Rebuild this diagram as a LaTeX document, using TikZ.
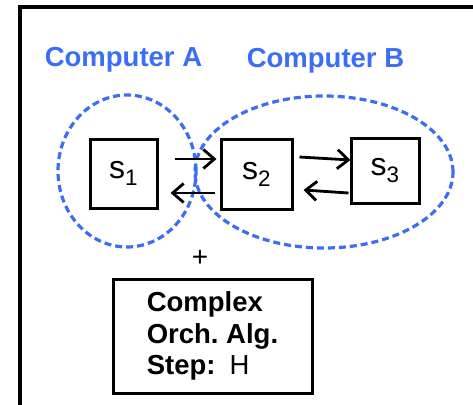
\documentclass[tikz,border=0pt]{standalone}
\usepackage{fontspec}
\setmainfont{Liberation Sans}
\usetikzlibrary{arrows.meta,shapes.geometric}
\definecolor{compblue}{RGB}{59,110,245}
\begin{document}
\begin{tikzpicture}[x=1pt,y=1pt,
  lbl/.style={font=\fontsize{27.5}{31}\selectfont\bfseries, text=compblue, inner sep=0pt},
  comp/.style={ellipse, draw=compblue, dash pattern=on 7pt off 4pt, line width=3.2pt, inner sep=0pt},
  proc/.style={draw, line width=3pt, inner sep=0pt, font=\fontsize{32}{32}\selectfont},
  flow/.style={line width=2.8pt, -{Straight Barb[length=11pt,width=19pt,line width=2.8pt]}},
  algbox/.style={draw, line width=3pt, minimum width=199pt, minimum height=114pt, align=left, inner sep=0pt, font=\fontsize{27.5}{31.5}\selectfont\bfseries},
  framebox/.style={draw, line width=3.2pt, outer sep=0pt, inner sep=0pt, anchor=north west}
]
\useasboundingbox (0,0) rectangle (473,-404);
\clip (0,0) rectangle (473,-404);
\fill[white] (0,0) rectangle (473,-404);
\node[framebox, minimum width=480pt, minimum height=420pt] (frame) at (20,-7) {};

\node[lbl] (compA) at (123.5,-60) {Computer A};
\node[lbl] (compB) at (325.5,-61) {Computer B};

\node[comp, minimum width=138pt, minimum height=152pt] (ellA) at (127,-171) {};
\node[comp, minimum width=258pt, minimum height=152pt] (ellB) at (324,-172) {};

\node[proc, minimum width=67pt, minimum height=69pt] (s1) at (123.5,-173.5) {s\textsubscript{1}};
\node[proc, minimum width=71pt, minimum height=70pt] (s2) at (256.5,-174) {s\textsubscript{2}};
\node[proc, minimum width=68pt, minimum height=65pt] (s3) at (385,-170.5) {s\textsubscript{3}};

\draw[flow] ([shift={(16,14.5)}]s1.east) -- ([shift={(-3,15)}]s2.west);
\draw[flow] ([shift={(-5,-19)}]s2.west) -- ([shift={(12,-19.5)}]s1.east);
\draw[flow] ([shift={(6,17)}]s2.east) -- ([shift={(1,10.5)}]s3.west);
\draw[flow] ([shift={(-1,-22.5)}]s3.west) -- ([shift={(10,-16)}]s2.east);

\node[font=\fontsize{28}{28}\selectfont, inner sep=0pt] (plus) at (200,-258) {+};

\node[algbox] (alg) at (212.5,-336) {Complex\\Orch.\ Alg.\\Step:\hspace{14pt}{\mdseries H}};
\end{tikzpicture}
\end{document}
